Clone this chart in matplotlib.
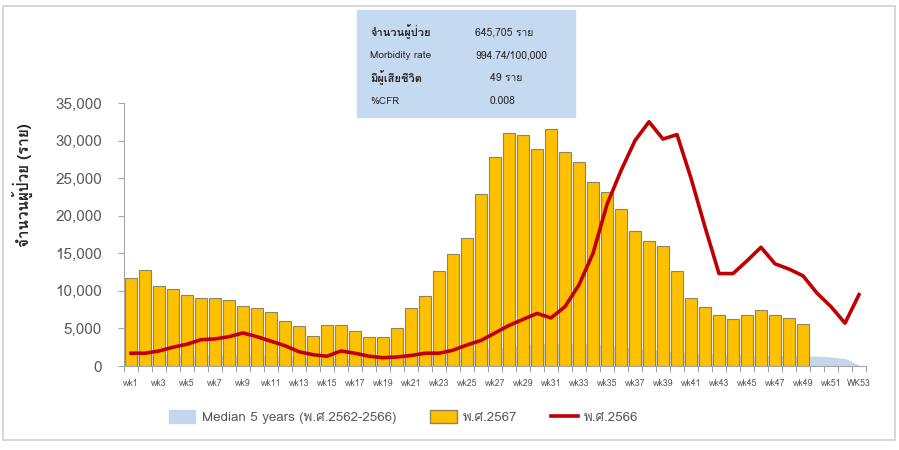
import matplotlib
matplotlib.use("Agg")
import matplotlib.pyplot as plt
from matplotlib import font_manager, ft2font
from matplotlib.patches import Rectangle
from matplotlib.lines import Line2D

# weekly dengue cases
weeks = [f"wk{i}" for i in range(1, 53)] + ["WK53"]

cases_2567 = [11700, 12800, 10650, 10250, 9450, 9050, 9100, 8800, 8000, 7750,
              7200, 6000, 5300, 4000, 5450, 5500, 4700, 3800, 3800, 5100,
              7700, 9300, 12600, 14900, 17000, 22900, 27800, 31000, 30700, 28900,
              31500, 28500, 27100, 24500, 23200, 20900, 18000, 16600, 16000, 12600,
              9000, 7800, 6800, 6300, 6800, 7400, 6800, 6400, 5600]

cases_2566 = [1700, 1700, 2000, 2500, 2900, 3500, 3600, 3900, 4400, 3900,
              3300, 2700, 1900, 1500, 1300, 2000, 1700, 1300, 1100, 1200,
              1400, 1700, 1700, 2100, 2800, 3400, 4400, 5400, 6200, 7000,
              6400, 7900, 10800, 15000, 21500, 26000, 30000, 32500, 30200, 30800,
              25000, 18500, 12300, 12300, 14000, 15800, 13600, 12900, 12000, 9700,
              7900, 5700, 9500]

# only the tail (wk50-53) shows from behind the bars
median_5y = [1500, 1500, 1500, 1500, 1500, 1500, 1500, 1500, 1500, 1500,
             1400, 1300, 1200, 1100, 1000, 1000, 1000, 1000, 1000, 1100,
             1200, 1400, 1600, 1800, 2000, 2200, 2400, 2600, 2800, 3000,
             3000, 3000, 3000, 3000, 2800, 2600, 2400, 2200, 2000, 1900,
             1800, 1700, 1600, 1550, 1500, 1450, 1400, 1380, 1350, 1320,
             1200, 1000, 150]

info_labels = ["จำนวนผู้ป่วย", "Morbidity rate", "มีผู้เสียชีวิต", "%CFR"]
info_values = ["645,705 ราย", "994.74/100,000", "49 ราย", "0.008"]


def thai_family():
    for f in font_manager.fontManager.ttflist:
        try:
            if 0x0E08 in ft2font.FT2Font(f.fname).get_charmap():
                return f.name
        except Exception:
            pass
    return None


th = thai_family()
fam = [th, "DejaVu Sans"] if th else ["DejaVu Sans"]
plt.rcParams["font.family"] = fam

GRAY = "#595959"
fig = plt.figure(figsize=(8.99, 4.5), dpi=100)
ax = fig.add_axes([124 / 899, 1 - 366 / 450, 742 / 899, 263 / 450])

x = list(range(len(weeks)))
ax.fill_between(x, median_5y, color="#c5d5ec", lw=0, zorder=1)
ax.bar(x[:len(cases_2567)], cases_2567, width=0.92, color="#ffc000",
       edgecolor="#8c8464", linewidth=0.8, zorder=2)
ax.plot(x, cases_2566, color="#c00000", lw=2.6, zorder=3, solid_joinstyle="round")

ax.set_xlim(-0.5, len(weeks) - 0.5)
ax.set_ylim(0, 35000)
ax.set_yticks(range(0, 35001, 5000))
ax.set_yticklabels([f"{v:,}" for v in range(0, 35001, 5000)], fontsize=11, color=GRAY)
ax.tick_params(axis="y", length=4, color="#a6a6a6", pad=12)

ax.set_xticks([i + 0.5 for i in range(-1, len(weeks))])
ax.set_xticklabels([])
ax.tick_params(axis="x", which="major", length=4, color="#a6a6a6", direction="out")
ax.set_xticks(x[::2], minor=True)
ax.set_xticklabels(weeks[::2], minor=True, fontsize=6.3, color=GRAY)
ax.tick_params(axis="x", which="minor", length=0, pad=9)

for s in ("top", "right"):
    ax.spines[s].set_visible(False)
for s in ("left", "bottom"):
    ax.spines[s].set_color("#a6a6a6")

fig.text(22 / 899, 1 - 185 / 450, "จำนวนผู้ป่วย (ราย)", rotation=90, fontsize=11,
         fontweight="bold", color="#262626", ha="center", va="center")

# info box
fig.patches.append(Rectangle((357 / 899, 1 - 117 / 450), 218 / 899, 107 / 450,
                             transform=fig.transFigure, color="#c5d9f1", zorder=0))
for i, (lab, val) in enumerate(zip(info_labels, info_values)):
    yy = 1 - (32 + 23 * i) / 450
    bold = "bold" if i in (0, 2) else "normal"
    fig.text(370 / 899, yy, lab, fontsize=8 if bold == "bold" else 7.2,
             fontweight=bold, color="#262626", va="center")
    xv = 475 if i in (0, 1) else 490
    fig.text(xv / 899, yy, val, fontsize=7.5, color="#262626", va="center")

# frame
fig.patches.append(Rectangle((3 / 899, 10 / 450), 892 / 899, 434 / 450,
                             transform=fig.transFigure, fill=False,
                             edgecolor="#d0d0d0", lw=1.2))

handles = [Rectangle((0, 0), 1, 1, color="#c5d5ec"),
           Rectangle((0, 0), 1, 1, facecolor="#ffc000", edgecolor="#8c8464"),
           Line2D([], [], color="#c00000", lw=2.6)]
fig.legend(handles, ["Median 5 years (พ.ศ.2562-2566)", "พ.ศ.2567", "พ.ศ.2566"],
           loc="center left", bbox_to_anchor=(162 / 899, 1 - 417 / 450), ncol=3,
           frameon=False, fontsize=9.6, labelcolor=GRAY, columnspacing=2.5,
           handlelength=2.0, handleheight=1.1, handletextpad=0.5, borderpad=0)

fig.savefig("out.png", dpi=100)
